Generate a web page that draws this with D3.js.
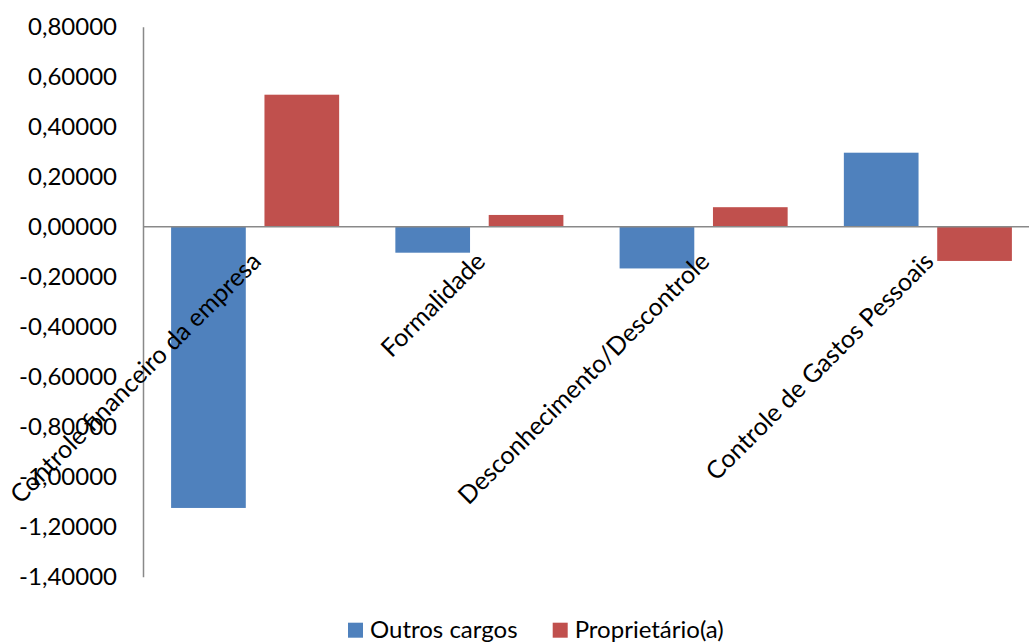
<!DOCTYPE html>
<html>
<head>
<meta charset="utf-8">
<script src="https://cdn.jsdelivr.net/npm/d3@7"></script>
<style>
  html, body { margin: 0; padding: 0; background: #fff; }
  svg { display: block; }
  text { font-family: Lato, "Open Sans", sans-serif; fill: #000; }
</style>
</head>
<body>
<svg id="chart" width="1029" height="644"></svg>
<script>
const categories = ["Controle financeiro da empresa", "Formalidade", "Desconhecimento/Descontrole", "Controle de Gastos Pessoais"];
const seriesNames = ["Outros cargos", "Proprietário(a)"];
const outrosCargos = [-1.125, -0.104, -0.167, 0.296];
const proprietario = [0.528, 0.047, 0.078, -0.137];
const yTicks = [0.8, 0.6, 0.4, 0.2, 0, -0.2, -0.4, -0.6, -0.8, -1.0, -1.2, -1.4];
const colors = ["#4F81BD", "#C0504D"];

(function () {
const seriesValues = [outrosCargos, proprietario];
const svg = d3.select("#chart");

const mLeft = 143, mRight = 1040, mTop = 26.7, mBottom = 576.7;
const fontSize = 24;
const catFontSize = 25;

const y = d3.scaleLinear().domain([-1.4, 0.8]).range([mBottom, mTop]);
const x0 = d3.scaleBand().domain(categories).range([mLeft, mRight]).paddingInner(0).paddingOuter(0);
const x1 = d3.scaleBand().domain(seriesNames).range([0, x0.bandwidth()]).paddingInner(0.2).paddingOuter(0.301);

const fmt = v => d3.format(".5f")(v).replace(".", ",").replace("−", "-");

// y axis
const yAxis = d3.axisLeft(y).tickValues(yTicks).tickSize(0).tickPadding(26).tickFormat(fmt);
const gy = svg.append("g").attr("transform", `translate(${mLeft},0)`).call(yAxis);
gy.select(".domain").attr("stroke", "#898989").attr("stroke-width", 1.5);
gy.selectAll("text").style("font-size", fontSize + "px").style("font-family", "Lato, 'Open Sans', sans-serif").attr("fill", "#000");

// bars
const groups = svg.append("g").selectAll("g").data(categories).join("g")
  .attr("transform", d => `translate(${x0(d)},0)`);
groups.selectAll("rect")
  .data((c, i) => seriesNames.map((s, j) => ({ s, v: seriesValues[j][i], j })))
  .join("rect")
  .attr("x", d => x1(d.s))
  .attr("width", x1.bandwidth())
  .attr("y", d => y(Math.max(0, d.v)))
  .attr("height", d => Math.abs(y(d.v) - y(0)))
  .attr("fill", d => colors[d.j]);

// zero line
svg.append("line")
  .attr("x1", mLeft).attr("x2", mRight)
  .attr("y1", y(0)).attr("y2", y(0))
  .attr("stroke", "#898989").attr("stroke-width", 1.5);

// category labels
svg.append("g").selectAll("text").data(categories).join("text")
  .attr("transform", d => `translate(${x0(d) + x0.bandwidth() / 2 - 5},${y(0) + 24}) rotate(-45)`)
  .attr("text-anchor", "end")
  .attr("dy", "0.7em")
  .style("font-size", catFontSize + "px")
  .text(d => d);

// legend
const legendItems = [
  { name: seriesNames[0], color: colors[0], x: 348 },
  { name: seriesNames[1], color: colors[1], x: 552.7 }
];
const lg = svg.append("g");
legendItems.forEach(it => {
  lg.append("rect").attr("x", it.x).attr("y", 622.7).attr("width", 15).attr("height", 15).attr("fill", it.color);
  lg.append("text").attr("x", it.x + 22).attr("y", 637.5).style("font-size", fontSize + "px").text(it.name);
});
})();
</script>
</body>
</html>
